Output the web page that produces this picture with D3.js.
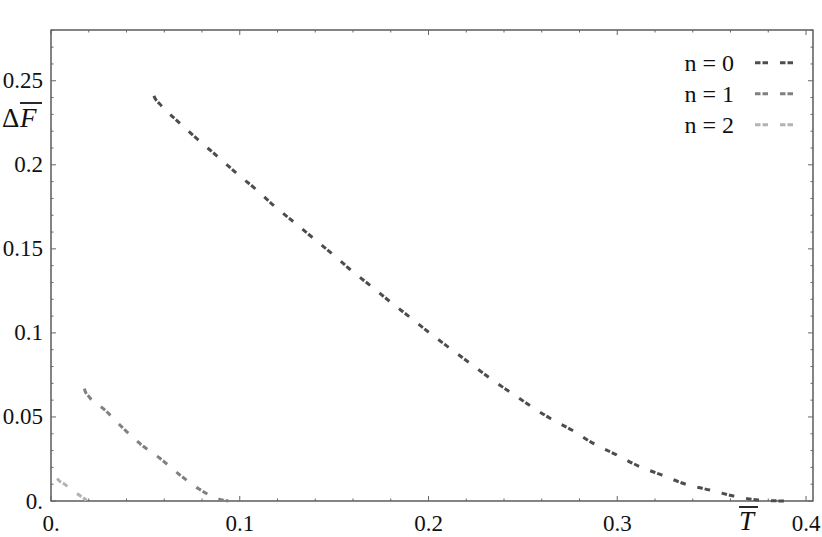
<!DOCTYPE html>
<html>
<head>
<meta charset="utf-8">
<script src="https://cdn.jsdelivr.net/npm/d3@7"></script>
<style>
  body { margin: 0; background: #fff; }
  text { font-family: "Liberation Serif", "Times New Roman", serif; fill: #111; }
</style>
</head>
<body>
<script>
// values
const series = ["n = 0", "n = 1", "n = 2"];
const colors = ["#4d4d4d", "#808080", "#b3b3b3"];

const n0T = [0.0545, 0.0551, 0.0577, 0.0683, 0.0780, 0.0883, 0.0984, 0.1090, 0.1187, 0.1284, 0.1390, 0.1496,
             0.1593, 0.1699, 0.1796, 0.1902, 0.2008, 0.2114, 0.2220, 0.2326, 0.2441, 0.2644, 0.2759, 0.2873,
             0.2997, 0.3112, 0.3235, 0.3359, 0.3491, 0.3615, 0.3747, 0.3840, 0.3924];
const n0F = [0.2410, 0.2396, 0.2361, 0.2247, 0.2148, 0.2049, 0.1949, 0.1850, 0.1751, 0.1662, 0.1563, 0.1464,
             0.1370, 0.1275, 0.1186, 0.1093, 0.0998, 0.0908, 0.0819, 0.0730, 0.0641, 0.0492, 0.0422, 0.0343,
             0.0274, 0.0208, 0.0155, 0.0101, 0.0065, 0.0030, 0.0006, 0.0001, 0.0];

const n1T = [0.0177, 0.0180, 0.0198, 0.0286, 0.0383, 0.0480, 0.0577, 0.0683, 0.0780, 0.0878, 0.0940];
const n1F = [0.0668, 0.0656, 0.0625, 0.0541, 0.0432, 0.0333, 0.0254, 0.0155, 0.0075, 0.0016, 0.0];

const n2T = [0.0034, 0.0039, 0.0065, 0.0136, 0.0189];
const n2F = [0.0135, 0.0125, 0.0105, 0.0046, 0.0004];

const xTicks = [0, 0.1, 0.2, 0.3, 0.4];
const xTickLabels = ["0.", "0.1", "0.2", "0.3", "0.4"];
const yTicks = [0, 0.05, 0.1, 0.15, 0.2, 0.25];
const yTickLabels = ["0.", "0.05", "0.1", "0.15", "0.2", "0.25"];

const W = 822, H = 537;
const plot = {left: 51, right: 813, top: 30, bottom: 501};

const svg = d3.select("body").append("svg")
    .attr("width", W)
    .attr("height", H);

const x = d3.scaleLinear().domain([0, 0.4037]).range([plot.left, plot.right]);
const y = d3.scaleLinear().domain([0, 0.2802]).range([plot.bottom, plot.top]);

const xMinor = d3.range(0, 0.4037, 0.02).filter(v => Math.abs(v * 10 - Math.round(v * 10)) > 1e-6);
const yMinor = d3.range(0, 0.2802, 0.01).filter(v => Math.abs(v * 20 - Math.round(v * 20)) > 1e-6);

// frame
svg.append("rect")
    .attr("x", plot.left).attr("y", plot.top)
    .attr("width", plot.right - plot.left).attr("height", plot.bottom - plot.top)
    .attr("fill", "none").attr("stroke", "#333").attr("stroke-width", 1.2);

// ticks, all four sides, pointing inward
const tickG = svg.append("g").attr("stroke", "#666").attr("stroke-width", 1);
function xTickMarks(vals, len) {
  vals.forEach(v => {
    tickG.append("line").attr("x1", x(v)).attr("x2", x(v)).attr("y1", plot.bottom).attr("y2", plot.bottom - len);
    tickG.append("line").attr("x1", x(v)).attr("x2", x(v)).attr("y1", plot.top).attr("y2", plot.top + len);
  });
}
function yTickMarks(vals, len) {
  vals.forEach(v => {
    tickG.append("line").attr("y1", y(v)).attr("y2", y(v)).attr("x1", plot.left).attr("x2", plot.left + len);
    tickG.append("line").attr("y1", y(v)).attr("y2", y(v)).attr("x1", plot.right).attr("x2", plot.right - len);
  });
}
xTickMarks(xTicks, 5);
xTickMarks(xMinor, 2.5);
yTickMarks(yTicks, 5);
yTickMarks(yMinor, 2.5);

// tick labels
svg.append("g").selectAll("text")
    .data(xTicks)
    .enter().append("text")
    .attr("x", d => x(d))
    .attr("y", 531)
    .attr("text-anchor", "middle")
    .attr("font-size", 23)
    .text((d, i) => xTickLabels[i]);

svg.append("g").selectAll("text")
    .data(yTicks)
    .enter().append("text")
    .attr("x", plot.left - 8)
    .attr("y", d => y(d) + 7.5)
    .attr("text-anchor", "end")
    .attr("font-size", 23)
    .text((d, i) => yTickLabels[i]);

// axis labels with overlines
svg.append("text").attr("x", 2).attr("y", 127).attr("font-size", 27).text("Δ");
const fLab = svg.append("text").attr("x", 20).attr("y", 127).attr("font-size", 27)
    .attr("font-style", "italic").text("F");
const fb = fLab.node().getBBox();
svg.append("line").attr("x1", fb.x + 1).attr("x2", fb.x + fb.width + 5)
    .attr("y1", 103).attr("y2", 103).attr("stroke", "#111").attr("stroke-width", 1.8);

const tLab = svg.append("text").attr("x", 739).attr("y", 530).attr("font-size", 27)
    .attr("font-style", "italic").text("T");
const tb = tLab.node().getBBox();
svg.append("line").attr("x1", tb.x).attr("x2", tb.x + tb.width + 2)
    .attr("y1", 507).attr("y2", 507).attr("stroke", "#111").attr("stroke-width", 1.8);

// curves
const dash = "5.5,2,5.5,12";
const line = d3.line().x(d => x(d[0])).y(d => y(d[1])).curve(d3.curveMonotoneX);
const data = [
  d3.zip(n0T, n0F),
  d3.zip(n1T, n1F),
  d3.zip(n2T, n2F)
];
data.forEach((pts, i) => {
  svg.append("path")
      .datum(pts)
      .attr("d", line)
      .attr("fill", "none")
      .attr("stroke", colors[i])
      .attr("stroke-width", 3)
      .attr("stroke-dasharray", dash);
});

// legend
const legend = svg.append("g");
series.forEach((s, i) => {
  const ly = 62.7 + i * 31;
  legend.append("text")
      .attr("x", 734).attr("y", ly + 8)
      .attr("text-anchor", "end")
      .attr("font-size", 24)
      .text(s);
  legend.append("line")
      .attr("x1", 755).attr("x2", 797)
      .attr("y1", ly).attr("y2", ly)
      .attr("stroke", colors[i])
      .attr("stroke-width", 3)
      .attr("stroke-dasharray", dash);
});
</script>
</body>
</html>
